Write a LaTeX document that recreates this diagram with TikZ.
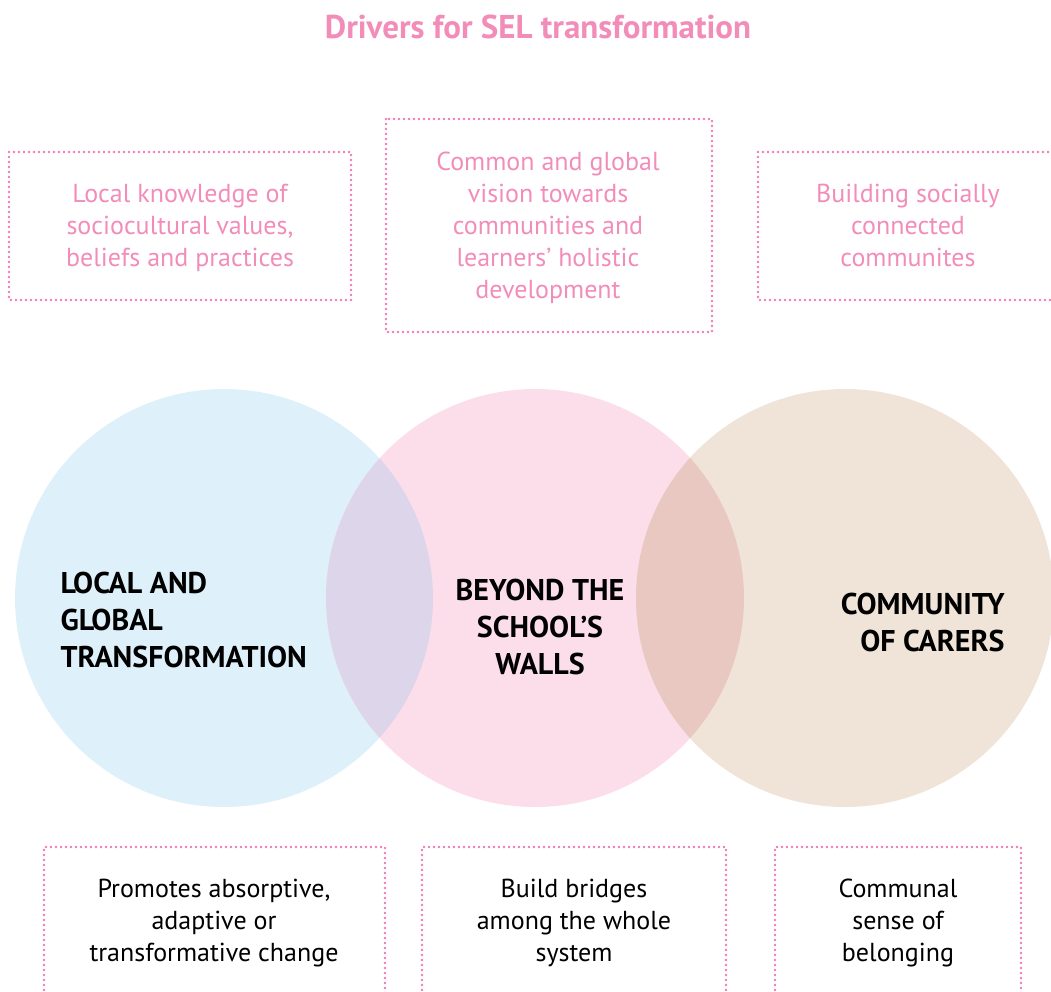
\documentclass[tikz,border=0pt]{standalone}
\usepackage{fontspec}
\setmainfont{PT Sans}
\definecolor{cblue}{HTML}{DEF1FB}
\definecolor{cpink}{HTML}{FBDEEA}
\definecolor{cbeige}{HTML}{F0E4D8}
\definecolor{clav}{HTML}{DDD5EA}
\definecolor{crose}{HTML}{EAC8C2}
\definecolor{ptext}{HTML}{F28DBA}
\definecolor{pdot}{HTML}{F07AB2}
\tikzset{
  dotbox/.style={draw=pdot, line width=2.6pt, dash pattern=on 0pt off 5pt, line cap=round},
  ptxt/.style={text=ptext, align=center, font=\fontsize{26}{32}\selectfont},
  btxt/.style={text=black, align=center, font=\fontsize{26}{32}\selectfont},
  clabel/.style={text=black, font=\bfseries\fontsize{30}{37}\selectfont}
}
\begin{document}
\begin{tikzpicture}[x=1pt,y=-1pt]
\useasboundingbox (0,0) rectangle (1051,991);
% circles
\fill[cblue] (224,598) circle (209);
\fill[cpink] (535,598) circle (209);
\fill[cbeige] (845,598) circle (209);
\begin{scope}
  \clip (224,598) circle (209);
  \fill[clav] (535,598) circle (209);
\end{scope}
\begin{scope}
  \clip (535,598) circle (209);
  \fill[crose] (845,598) circle (209);
\end{scope}
\node (c1) at (224,598) {};
\node (c2) at (535,598) {};
\node (c3) at (845,598) {};
% title
\node (title) at (538,27) {\textcolor{ptext}{\bfseries\fontsize{33}{36}\selectfont Drivers for SEL transformation}};
% top boxes
\draw[dotbox] (1053,152) -- (758,152) -- (758,300) -- (1053,300);
\draw[dotbox] (9,152) rectangle (351,300);
\draw[dotbox] (386,119) rectangle (712,332);
\node[ptxt] (t1) at (180,228) {Local knowledge of\\sociocultural values,\\beliefs and practices};
\node[ptxt] (t2) at (548,228) {Common and global\\vision towards\\communities and\\learners’ holistic\\development};
\node[ptxt] (t3) at (908,225) {Building socially\\connected\\communites};
% bottom boxes
\draw[dotbox] (44,995) -- (44,847) -- (385,847) -- (385,995);
\draw[dotbox] (422,995) -- (422,847) -- (726,847) -- (726,995);
\draw[dotbox] (775,995) -- (775,847) -- (1021,847) -- (1021,995);
\node[btxt] (b1) at (214,923) {Promotes absorptive,\\adaptive or\\transformative change};
\node[btxt] (b2) at (574,923) {Build bridges\\among the whole\\system};
\node[btxt] (b3) at (898,923) {Communal\\sense of\\belonging};
% circle labels
\node[clabel, align=left, anchor=west] (l1) at (57,620) {LOCAL AND\\GLOBAL\\TRANSFORMATION};
\node[clabel, align=center] (l2) at (540,627) {BEYOND THE\\SCHOOL’S\\WALLS};
\node[clabel, align=right, anchor=east] (l3) at (1008,622) {COMMUNITY\\OF CARERS};
\end{tikzpicture}
\end{document}
